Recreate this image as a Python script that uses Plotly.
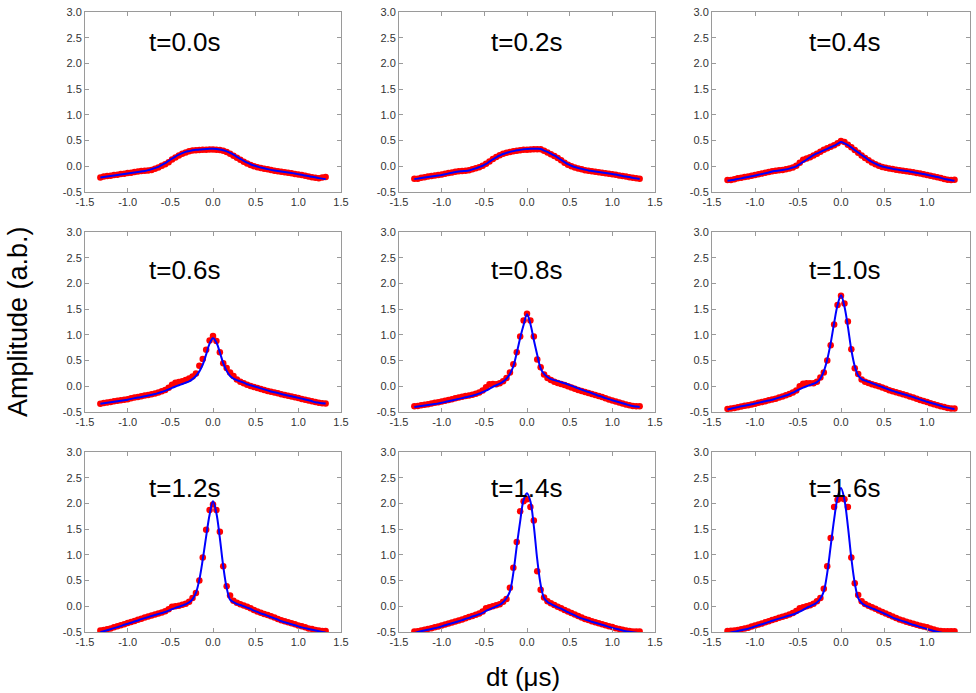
import plotly.graph_objects as go

# shared sampling grid (dt, microseconds)
DT = [-1.32, -1.28, -1.24, -1.20, -1.16, -1.12, -1.08, -1.04, -1.00, -0.96, -0.92,
      -0.88, -0.84, -0.80, -0.76, -0.72, -0.68, -0.64, -0.60, -0.56, -0.52, -0.48,
      -0.44, -0.40, -0.36, -0.32, -0.28, -0.24, -0.20, -0.16, -0.12, -0.08, -0.04,
      0.00,
      0.04, 0.08, 0.12, 0.16, 0.20, 0.24, 0.28, 0.32, 0.36, 0.40, 0.44,
      0.48, 0.52, 0.56, 0.60, 0.64, 0.68, 0.72, 0.76, 0.80, 0.84, 0.88,
      0.92, 0.96, 1.00, 1.04, 1.08, 1.12, 1.16, 1.20, 1.24, 1.28, 1.32]

LABELS = ["t=0.0s", "t=0.2s", "t=0.4s", "t=0.6s", "t=0.8s", "t=1.0s", "t=1.2s", "t=1.4s", "t=1.6s"]

# measured (red dots)
R00 = [-0.22, -0.20, -0.19, -0.185, -0.17, -0.165, -0.15, -0.145, -0.13, -0.125, -0.11,
       -0.10, -0.09, -0.085, -0.08, -0.07, -0.05, -0.025, 0.01, 0.04, 0.08, 0.13,
       0.17, 0.21, 0.245, 0.27, 0.29, 0.305, 0.31, 0.315, 0.32, 0.32, 0.325,
       0.325,
       0.32, 0.315, 0.30, 0.28, 0.245, 0.205, 0.165, 0.125, 0.09, 0.055, 0.025,
       0.0, -0.02, -0.035, -0.05, -0.06, -0.07, -0.085, -0.095, -0.105, -0.115, -0.125,
       -0.135, -0.15, -0.16, -0.17, -0.185, -0.2, -0.215, -0.225, -0.235, -0.22, -0.21]
R02 = [-0.24, -0.24, -0.225, -0.215, -0.20, -0.19, -0.18, -0.17, -0.16, -0.145, -0.13,
       -0.12, -0.105, -0.095, -0.09, -0.085, -0.075, -0.06, -0.04, -0.02, 0.01, 0.05,
       0.095, 0.14, 0.18, 0.215, 0.245, 0.265, 0.28, 0.29, 0.30, 0.31, 0.32,
       0.32,
       0.325, 0.33, 0.33, 0.33, 0.30, 0.27, 0.235, 0.2, 0.16, 0.115, 0.07,
       0.03, 0.0, -0.025, -0.045, -0.06, -0.075, -0.085, -0.095, -0.105, -0.115, -0.125,
       -0.135, -0.145, -0.155, -0.165, -0.18, -0.19, -0.2, -0.215, -0.225, -0.235, -0.24]
R04 = [-0.265, -0.265, -0.25, -0.235, -0.225, -0.21, -0.2, -0.185, -0.17, -0.155, -0.14,
       -0.125, -0.11, -0.095, -0.085, -0.075, -0.07, -0.06, -0.045, -0.025, 0.01, 0.07,
       0.125, 0.15, 0.175, 0.21, 0.245, 0.285, 0.32, 0.35, 0.38, 0.41, 0.45,
       0.49,
       0.47, 0.42, 0.37, 0.315, 0.265, 0.21, 0.16, 0.115, 0.075, 0.04, 0.01,
       -0.015, -0.03, -0.045, -0.055, -0.065, -0.075, -0.085, -0.095, -0.105, -0.115, -0.13,
       -0.14, -0.155, -0.17, -0.185, -0.2, -0.215, -0.23, -0.245, -0.26, -0.265, -0.26]
R06 = [-0.34, -0.325, -0.315, -0.305, -0.29, -0.28, -0.27, -0.26, -0.25, -0.235, -0.22,
       -0.21, -0.195, -0.18, -0.17, -0.155, -0.14, -0.12, -0.095, -0.07, -0.03, 0.03,
       0.07, 0.085, 0.1, 0.12, 0.15, 0.19, 0.25, 0.40, 0.53, 0.71, 0.89,
       0.98,
       0.88, 0.66, 0.45, 0.355, 0.27, 0.2, 0.13, 0.09, 0.06, 0.03, 0.005,
       -0.015, -0.035, -0.055, -0.07, -0.09, -0.105, -0.12, -0.135, -0.155, -0.17, -0.185,
       -0.2, -0.215, -0.23, -0.245, -0.26, -0.275, -0.29, -0.305, -0.32, -0.33, -0.335]
R08 = [-0.39, -0.385, -0.37, -0.36, -0.35, -0.335, -0.32, -0.31, -0.295, -0.28, -0.265,
       -0.25, -0.235, -0.22, -0.205, -0.19, -0.18, -0.165, -0.145, -0.12, -0.08, -0.02,
       0.04, 0.045, 0.04, 0.06, 0.1, 0.16, 0.27, 0.43, 0.66, 0.97, 1.28,
       1.41,
       1.28, 0.97, 0.52, 0.37, 0.23, 0.16, 0.12, 0.09, 0.065, 0.045, 0.025,
       0.0, -0.025, -0.05, -0.07, -0.09, -0.11, -0.13, -0.15, -0.17, -0.19, -0.21,
       -0.235, -0.255, -0.275, -0.295, -0.315, -0.335, -0.355, -0.37, -0.385, -0.39, -0.39]
R10 = [-0.44, -0.43, -0.42, -0.41, -0.395, -0.38, -0.37, -0.355, -0.34, -0.32, -0.305,
       -0.29, -0.27, -0.255, -0.24, -0.22, -0.2, -0.175, -0.15, -0.12, -0.08, 0.0,
       0.05, 0.06, 0.06, 0.06, 0.09, 0.17, 0.27, 0.5, 0.8, 1.2, 1.58,
       1.76,
       1.61, 1.26, 0.72, 0.35, 0.24, 0.13, 0.09, 0.065, 0.04, 0.02, 0.0,
       -0.025, -0.05, -0.075, -0.095, -0.115, -0.135, -0.155, -0.175, -0.2, -0.22, -0.24,
       -0.265, -0.285, -0.305, -0.33, -0.35, -0.37, -0.39, -0.405, -0.42, -0.43, -0.43]
R12 = [-0.47, -0.46, -0.445, -0.43, -0.41, -0.39, -0.37, -0.35, -0.325, -0.305, -0.285,
       -0.26, -0.24, -0.22, -0.2, -0.18, -0.16, -0.14, -0.12, -0.095, -0.06, -0.01,
       0.0, 0.01, 0.03, 0.05, 0.09, 0.16, 0.26, 0.5, 0.95, 1.49, 1.87,
       1.98,
       1.87, 1.45, 0.78, 0.39, 0.21, 0.11, 0.07, 0.04, 0.015, -0.01, -0.04,
       -0.07, -0.1, -0.125, -0.15, -0.17, -0.195, -0.22, -0.245, -0.27, -0.29, -0.31,
       -0.33, -0.35, -0.375, -0.39, -0.41, -0.43, -0.44, -0.46, -0.47, -0.48, -0.48]
R14 = [-0.49, -0.485, -0.47, -0.455, -0.44, -0.425, -0.41, -0.395, -0.375, -0.355, -0.335,
       -0.315, -0.295, -0.275, -0.255, -0.235, -0.21, -0.19, -0.165, -0.14, -0.1, -0.04,
       -0.02, 0.0, 0.02, 0.04, 0.09, 0.14, 0.36, 0.75, 1.25, 1.85, 2.04,
       2.08,
       1.93, 1.67, 0.68, 0.32, 0.17, 0.1, 0.06, 0.025, -0.01, -0.04, -0.07,
       -0.1, -0.13, -0.16, -0.19, -0.22, -0.245, -0.265, -0.29, -0.31, -0.33, -0.35,
       -0.37, -0.39, -0.405, -0.425, -0.44, -0.455, -0.47, -0.48, -0.49, -0.49, -0.49]
R16 = [-0.48, -0.475, -0.47, -0.46, -0.445, -0.43, -0.415, -0.395, -0.375, -0.355, -0.335,
       -0.31, -0.29, -0.265, -0.245, -0.225, -0.205, -0.185, -0.16, -0.13, -0.09, -0.04,
       -0.02, 0.0, 0.02, 0.05, 0.1, 0.16, 0.34, 0.78, 1.33, 1.93, 2.07,
       2.10,
       2.08, 1.93, 0.95, 0.45, 0.22, 0.1, 0.045, 0.01, -0.02, -0.05, -0.08,
       -0.11, -0.14, -0.17, -0.2, -0.23, -0.255, -0.275, -0.3, -0.32, -0.34, -0.36,
       -0.38, -0.395, -0.41, -0.43, -0.45, -0.47, -0.48, -0.485, -0.485, -0.485, -0.485]

# fitted curves (blue lines)
B00 = [-0.22, -0.21, -0.20, -0.19, -0.18, -0.17, -0.16, -0.15, -0.14, -0.13, -0.12,
       -0.11, -0.10, -0.09, -0.075, -0.055, -0.035, -0.01, 0.025, 0.06, 0.105, 0.15,
       0.19, 0.225, 0.255, 0.28, 0.295, 0.31, 0.32, 0.325, 0.33, 0.335, 0.34,
       0.34,
       0.335, 0.325, 0.31, 0.29, 0.26, 0.225, 0.185, 0.145, 0.105, 0.07, 0.04,
       0.015, -0.005, -0.025, -0.04, -0.055, -0.07, -0.08, -0.09, -0.10, -0.11, -0.12,
       -0.13, -0.14, -0.155, -0.165, -0.18, -0.19, -0.205, -0.215, -0.23, -0.24, -0.245]
B02 = [-0.245, -0.24, -0.23, -0.22, -0.21, -0.20, -0.19, -0.18, -0.17, -0.155, -0.14,
       -0.125, -0.11, -0.10, -0.095, -0.09, -0.08, -0.06, -0.04, -0.015, 0.01, 0.045,
       0.09, 0.135, 0.175, 0.21, 0.24, 0.26, 0.28, 0.295, 0.31, 0.32, 0.33,
       0.335,
       0.34, 0.34, 0.34, 0.335, 0.305, 0.28, 0.245, 0.21, 0.17, 0.125, 0.08,
       0.04, 0.01, -0.015, -0.035, -0.05, -0.065, -0.08, -0.09, -0.10, -0.11, -0.12,
       -0.13, -0.14, -0.15, -0.16, -0.175, -0.19, -0.20, -0.21, -0.225, -0.235, -0.245]
B04 = [-0.28, -0.27, -0.26, -0.245, -0.235, -0.22, -0.21, -0.195, -0.18, -0.165, -0.15,
       -0.135, -0.12, -0.10, -0.09, -0.08, -0.07, -0.06, -0.045, -0.025, 0.0, 0.04,
       0.085, 0.13, 0.175, 0.215, 0.25, 0.28, 0.31, 0.34, 0.37, 0.40, 0.435,
       0.47,
       0.445, 0.41, 0.365, 0.315, 0.27, 0.22, 0.175, 0.125, 0.085, 0.05, 0.02,
       -0.005, -0.02, -0.035, -0.05, -0.06, -0.07, -0.08, -0.09, -0.10, -0.115, -0.125,
       -0.14, -0.15, -0.165, -0.18, -0.195, -0.21, -0.225, -0.245, -0.255, -0.27, -0.28]
B06 = [-0.34, -0.33, -0.32, -0.31, -0.30, -0.29, -0.28, -0.27, -0.26, -0.245, -0.23,
       -0.22, -0.21, -0.195, -0.18, -0.165, -0.15, -0.13, -0.11, -0.09, -0.06, -0.03,
       -0.005, 0.02, 0.045, 0.07, 0.095, 0.14, 0.2, 0.29, 0.42, 0.62, 0.83,
       0.935,
       0.85, 0.66, 0.45, 0.3, 0.2, 0.15, 0.12, 0.095, 0.07, 0.04, 0.02,
       0.0, -0.02, -0.04, -0.06, -0.08, -0.1, -0.115, -0.13, -0.15, -0.165, -0.18,
       -0.195, -0.21, -0.225, -0.24, -0.255, -0.27, -0.29, -0.31, -0.32, -0.33, -0.335]
B08 = [-0.405, -0.395, -0.385, -0.375, -0.365, -0.355, -0.345, -0.335, -0.32, -0.305, -0.29,
       -0.275, -0.26, -0.245, -0.23, -0.215, -0.20, -0.185, -0.165, -0.14, -0.115, -0.085,
       -0.05, -0.01, 0.02, 0.05, 0.09, 0.15, 0.24, 0.39, 0.65, 0.94, 1.19,
       1.40,
       1.21, 0.90, 0.61, 0.35, 0.24, 0.18, 0.14, 0.12, 0.10, 0.08, 0.06,
       0.035, 0.01, -0.015, -0.04, -0.065, -0.09, -0.11, -0.135, -0.16, -0.185, -0.205,
       -0.23, -0.25, -0.27, -0.29, -0.31, -0.33, -0.35, -0.37, -0.385, -0.395, -0.405]
B10 = [-0.45, -0.435, -0.42, -0.405, -0.39, -0.38, -0.365, -0.35, -0.335, -0.32, -0.305,
       -0.29, -0.275, -0.26, -0.24, -0.22, -0.2, -0.18, -0.155, -0.125, -0.09, -0.055,
       -0.025, 0.0, 0.025, 0.05, 0.08, 0.15, 0.29, 0.52, 0.84, 1.23, 1.58,
       1.77,
       1.55, 1.16, 0.71, 0.39, 0.21, 0.14, 0.11, 0.085, 0.06, 0.035, 0.01,
       -0.015, -0.04, -0.065, -0.09, -0.11, -0.13, -0.15, -0.17, -0.19, -0.21, -0.235,
       -0.255, -0.275, -0.3, -0.32, -0.34, -0.36, -0.38, -0.4, -0.415, -0.43, -0.44]
B12 = [-0.505, -0.485, -0.465, -0.445, -0.425, -0.405, -0.385, -0.36, -0.34, -0.32, -0.295,
       -0.275, -0.25, -0.23, -0.21, -0.19, -0.17, -0.15, -0.13, -0.11, -0.085, -0.055,
       -0.03, -0.01, 0.015, 0.04, 0.075, 0.14, 0.26, 0.52, 0.91, 1.36, 1.78,
       2.04,
       1.81, 1.33, 0.78, 0.36, 0.13, 0.08, 0.045, 0.025, 0.0, -0.025, -0.05,
       -0.085, -0.11, -0.14, -0.16, -0.185, -0.21, -0.235, -0.26, -0.29, -0.31, -0.33,
       -0.35, -0.37, -0.39, -0.41, -0.425, -0.44, -0.455, -0.47, -0.485, -0.5, -0.51]
B14 = [-0.52, -0.5, -0.485, -0.47, -0.455, -0.44, -0.425, -0.41, -0.39, -0.37, -0.35,
       -0.33, -0.31, -0.29, -0.27, -0.245, -0.225, -0.2, -0.18, -0.155, -0.13, -0.09,
       -0.06, -0.03, 0.0, 0.03, 0.08, 0.16, 0.29, 0.65, 1.17, 1.65, 2.07,
       2.2,
       2.04, 1.56, 0.91, 0.42, 0.16, 0.085, 0.045, 0.01, -0.02, -0.045, -0.08,
       -0.115, -0.145, -0.175, -0.21, -0.235, -0.255, -0.275, -0.3, -0.32, -0.34, -0.36,
       -0.38, -0.4, -0.42, -0.435, -0.45, -0.47, -0.485, -0.495, -0.505, -0.515, -0.525]
B16 = [-0.53, -0.51, -0.495, -0.48, -0.465, -0.45, -0.435, -0.415, -0.39, -0.37, -0.35,
       -0.33, -0.305, -0.28, -0.26, -0.24, -0.22, -0.2, -0.18, -0.16, -0.135, -0.105,
       -0.07, -0.03, 0.0, 0.03, 0.075, 0.15, 0.29, 0.65, 1.17, 1.69, 2.11,
       2.3,
       2.07, 1.56, 0.94, 0.45, 0.16, 0.065, 0.02, -0.01, -0.04, -0.065, -0.095,
       -0.125, -0.155, -0.185, -0.22, -0.245, -0.27, -0.29, -0.31, -0.34, -0.36, -0.38,
       -0.4, -0.42, -0.44, -0.46, -0.48, -0.495, -0.51, -0.525, -0.54, -0.55, -0.56]

MEASURED = [R00, R02, R04, R06, R08, R10, R12, R14, R16]
FITTED = [B00, B02, B04, B06, B08, B10, B12, B14, B16]

XTICKS = [-1.5, -1.0, -0.5, 0.0, 0.5, 1.0, 1.5]
XTICKTEXT = ["-1.5", "-1.0", "-0.5", "0.0", "0.5", "1.0", "1.5"]
YTICKS = [-0.5, 0.0, 0.5, 1.0, 1.5, 2.0, 2.5, 3.0]
YTICKTEXT = ["-0.5", "0.0", "0.5", "1.0", "1.5", "2.0", "2.5", "3.0"]

# ---- layout geometry (pixels) ----
W, H = 976, 693
COLS = [(85, 341), (399, 655), (712, 970)]
ROWS = [(12, 192), (232, 412), (452, 632)]
LABEL_X = [0.389, 0.5, 0.514]
LABEL_Y = [0.833, 0.789, 0.80]

FONT = "Arial, Liberation Sans, sans-serif"
FRAME = "#9a9a9a"

fig = go.Figure()
layout = dict(
    width=W, height=H,
    margin=dict(l=0, r=0, t=0, b=0, autoexpand=False),
    paper_bgcolor="white", plot_bgcolor="white",
    showlegend=False,
    annotations=[],
)

for i in range(9):
    r, c = divmod(i, 3)
    n = i + 1
    xa = "x" if n == 1 else f"x{n}"
    ya = "y" if n == 1 else f"y{n}"
    fig.add_trace(go.Scatter(x=DT, y=MEASURED[i], mode="markers",
                             marker=dict(color="#ff0000", size=6.5, line=dict(width=0)),
                             xaxis=xa, yaxis=ya))
    fig.add_trace(go.Scatter(x=DT, y=FITTED[i], mode="lines", line_shape="spline",
                             line=dict(color="#0000ff", width=2),
                             xaxis=xa, yaxis=ya))
    x0, x1 = COLS[c]
    y0, y1 = ROWS[r]
    axcommon = dict(showline=True, mirror="ticks", linecolor=FRAME, linewidth=1,
                    ticks="inside", ticklen=4, tickcolor=FRAME, showgrid=False,
                    zeroline=False, automargin=False,
                    tickfont=dict(family=FONT, size=11, color="#333333"))
    layout[f"xaxis{n if n > 1 else ''}"] = dict(
        domain=[x0 / W, x1 / W], range=[-1.5, 1.5], anchor=ya,
        tickvals=XTICKS, ticktext=XTICKTEXT, **axcommon)
    layout[f"yaxis{n if n > 1 else ''}"] = dict(
        domain=[1 - y1 / H, 1 - y0 / H], range=[-0.5, 3.0], anchor=xa,
        tickvals=YTICKS, ticktext=YTICKTEXT, **axcommon)
    layout["annotations"].append(dict(
        text=LABELS[i], xref=f"{xa} domain", yref=f"{ya} domain",
        x=LABEL_X[c], y=LABEL_Y[r], xanchor="center", yanchor="middle",
        showarrow=False, font=dict(family=FONT, size=26, color="black")))

layout["annotations"].append(dict(
    text="Amplitude (a.b.)", xref="paper", yref="paper", x=18 / W, y=1 - 322 / H,
    xanchor="center", yanchor="middle", textangle=-90, showarrow=False,
    font=dict(family=FONT, size=27, color="black")))
layout["annotations"].append(dict(
    text="dt (\u03bcs)", xref="paper", yref="paper", x=523 / W, y=1 - 677 / H,
    xanchor="center", yanchor="middle", showarrow=False,
    font=dict(family=FONT, size=26, color="black")))

fig.update_layout(**layout)
fig.write_html("out.html",
               config={"displayModeBar": False},
               post_script="document.body.style.margin='0px';document.body.style.overflow='hidden';")
